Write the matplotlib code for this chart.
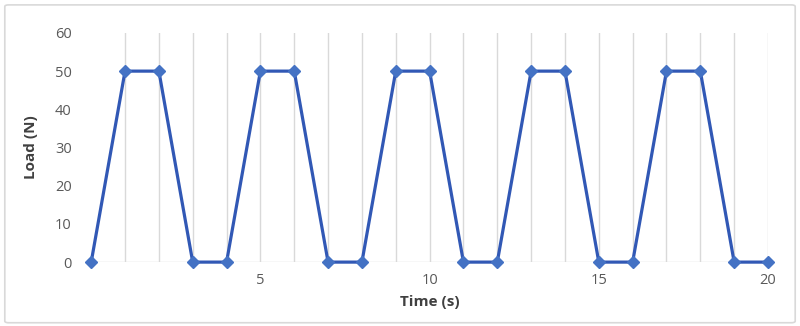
import matplotlib
matplotlib.use("Agg")
import matplotlib.pyplot as plt
from matplotlib.patches import FancyBboxPatch

# data
time_s = list(range(0, 21))
load_n = [0, 50, 50, 0, 0, 50, 50, 0, 0, 50, 50, 0, 0, 50, 50, 0, 0, 50, 50, 0, 0]
x_ticks = [5, 10, 15, 20]
y_ticks = [0, 10, 20, 30, 40, 50, 60]

plt.rcParams['font.family'] = ['Open Sans', 'DejaVu Sans']

fig = plt.figure(figsize=(8, 3.26), dpi=100)
ax = fig.add_axes([0.114, 0.196, 0.846, 0.703])

# vertical grid at every second
for t in time_s[1:]:
    ax.axvline(t, color='#d9d9d9', lw=1, zorder=0)
ax.axhline(0, color='#d9d9d9', lw=1, zorder=0)

ax.plot(time_s, load_n, color='#3158b5', lw=2.3, marker='D', markersize=6.5,
        markerfacecolor='#4472c4', markeredgecolor='#4472c4', clip_on=False, zorder=3)

ax.set_xlim(0, 20)
ax.set_ylim(0, 60)
ax.set_xticks(x_ticks)
ax.set_yticks(y_ticks)
ax.tick_params(length=0, labelsize=10.5, labelcolor='#595959', pad=8)
ax.tick_params(axis='y', pad=14)
for s in ax.spines.values():
    s.set_visible(False)

ax.set_xlabel('Time (s)', fontsize=11, fontweight='bold', color='#404040', labelpad=5)
ax.set_ylabel('Load (N)', fontsize=11, fontweight='bold', color='#404040', labelpad=12)

# light frame around the chart area
frame = FancyBboxPatch((0.006, 0.01), 0.988, 0.975, boxstyle='round,pad=0,rounding_size=0.005',
                       transform=fig.transFigure, fill=False, edgecolor='#d9d9d9', lw=1.2)
fig.patches.append(frame)

fig.savefig('out.png', dpi=100)
